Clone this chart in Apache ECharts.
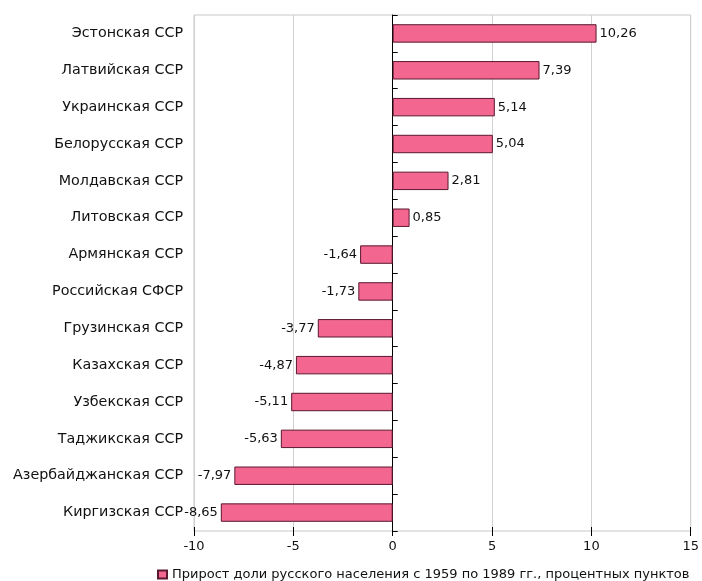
<!DOCTYPE html>
<html>
<head>
<meta charset="utf-8">
<script src="https://cdn.jsdelivr.net/npm/echarts@6/dist/echarts.min.js"></script>
<style>
  html, body { margin: 0; padding: 0; background: #fff; }
  #chart { width: 702px; height: 581px; }
</style>
</head>
<body>
<div id="chart"></div>
<script>
// республики, сверху вниз
const republics = [
  'Эстонская ССР', 'Латвийская ССР', 'Украинская ССР', 'Белорусская ССР',
  'Молдавская ССР', 'Литовская ССР', 'Армянская ССР', 'Российская СФСР',
  'Грузинская ССР', 'Казахская ССР', 'Узбекская ССР', 'Таджикская ССР',
  'Азербайджанская ССР', 'Киргизская ССР'
]
// прирост доли русского населения, п.п.
const growth = [10.26, 7.39, 5.14, 5.04, 2.81, 0.85, -1.64, -1.73, -3.77, -4.87, -5.11, -5.63, -7.97, -8.65]
const xTicks = [-10, -5, 0, 5, 10, 15]
const seriesName = 'Прирост доли русского населения с 1959 по 1989 гг., процентных пунктов'

const font = 'DejaVu Sans, Verdana, sans-serif'
const fmt = v => v.toFixed(2).replace('.', ',')
const xMin = xTicks[0], xMax = xTicks[xTicks.length - 1]

const chart = echarts.init(document.getElementById('chart'))
chart.setOption({
  animation: false,
  textStyle: { fontFamily: font },
  grid: {
    left: 194, right: 10, top: 15, bottom: 50,
    show: true, borderColor: '#c8c8c8', borderWidth: 1
  },
  legend: {
    data: [seriesName],
    left: 152, top: 563,
    itemWidth: 9, itemHeight: 8, itemGap: 4,
    icon: 'rect',
    textStyle: { fontSize: 13, color: '#111', fontFamily: font }
  },
  xAxis: [
    {
      type: 'value',
      min: xMin, max: xMax, interval: 5,
      axisLine: { onZero: false, lineStyle: { color: '#000' } },
      axisTick: { show: true, length: 5, lineStyle: { color: '#000' } },
      axisLabel: { color: '#111', fontSize: 13, margin: 9 },
      splitLine: { show: true, lineStyle: { color: '#d0d0d0' } }
    },
    {
      // засечки внутрь, чтобы получился крестик
      type: 'value',
      position: 'bottom',
      min: xMin, max: xMax, interval: 5,
      axisLine: { show: false, onZero: false },
      axisTick: { show: true, inside: true, length: 4, lineStyle: { color: '#000' } },
      axisLabel: { show: false },
      splitLine: { show: false }
    }
  ],
  yAxis: [
    {
      // подписи слева
      type: 'category',
      data: republics,
      inverse: true,
      position: 'left',
      axisLine: { show: false, onZero: false },
      axisTick: { show: false },
      axisLabel: { color: '#111', fontSize: 14.3, margin: 11 }
    },
    {
      // ось по нулю
      type: 'category',
      data: republics,
      inverse: true,
      position: 'left',
      axisLine: { show: true, onZero: true, lineStyle: { color: '#000' } },
      axisTick: { show: true, inside: true, length: 5, lineStyle: { color: '#000' } },
      axisLabel: { show: false }
    }
  ],
  series: [{
    name: seriesName,
    type: 'bar',
    yAxisIndex: 0,
    barWidth: '50%',
    itemStyle: { color: '#F2668F', borderColor: '#5a1830', borderWidth: 1 },
    data: growth.map(v => ({
      value: v,
      label: { position: v >= 0 ? 'right' : 'left' }
    })),
    label: {
      show: true,
      distance: 3,
      color: '#111',
      fontSize: 13,
      formatter: p => fmt(p.value)
    }
  }]
})
</script>
</body>
</html>
